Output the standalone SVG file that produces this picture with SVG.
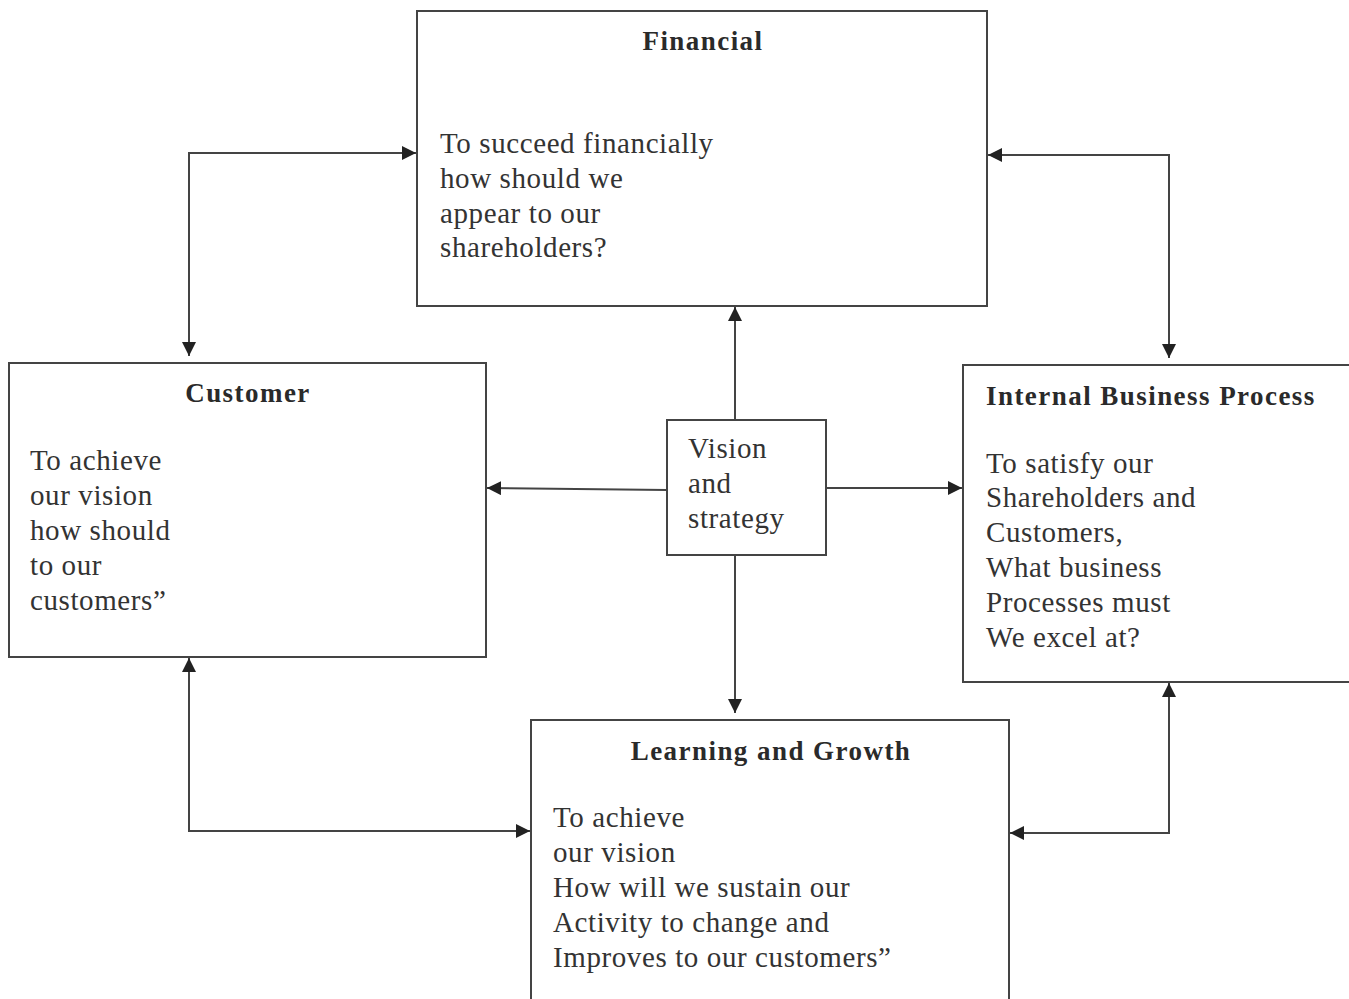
<svg xmlns="http://www.w3.org/2000/svg" width="1349" height="999" viewBox="0 0 1349 999">
<style>
.box{fill:#fff;stroke:#444;stroke-width:2}
.t{font-family:"Liberation Serif","Times New Roman",serif;font-weight:bold;font-size:27px;letter-spacing:1.45px;fill:#2a2a2a}
.b{font-family:"Liberation Serif","Times New Roman",serif;font-size:29px;letter-spacing:0.6px;fill:#333}
.c{fill:none;stroke:#444;stroke-width:2}
</style>
<defs>
<marker id="ah" viewBox="0 0 10 10" refX="10" refY="5" markerWidth="14" markerHeight="14" markerUnits="userSpaceOnUse" orient="auto-start-reverse">
<path d="M0,0 L10,5 L0,10 z" fill="#222"/>
</marker>
</defs>
<rect width="1349" height="999" fill="#fff"/>
<g id="connectors">
<polyline class="c" points="189,356 189,153 416,153" marker-start="url(#ah)" marker-end="url(#ah)"/>
<polyline class="c" points="988,155 1169,155 1169,358" marker-start="url(#ah)" marker-end="url(#ah)"/>
<line class="c" x1="735" y1="420" x2="735" y2="307" marker-end="url(#ah)"/>
<line class="c" x1="667" y1="490" x2="487" y2="488" marker-end="url(#ah)"/>
<line class="c" x1="826" y1="488" x2="962" y2="488" marker-end="url(#ah)"/>
<line class="c" x1="735" y1="555" x2="735" y2="713" marker-end="url(#ah)"/>
<polyline class="c" points="189,658 189,831 530,831" marker-start="url(#ah)" marker-end="url(#ah)"/>
<polyline class="c" points="1169,683 1169,833 1010,833" marker-start="url(#ah)" marker-end="url(#ah)"/>
</g>
<g id="financial">
<rect class="box" x="417" y="11" width="570" height="295"/>
<text class="t" x="703" y="50" text-anchor="middle">Financial</text>
<text class="b" x="440" y="153">To succeed financially</text>
<text class="b" x="440" y="188">how should we</text>
<text class="b" x="440" y="223">appear to our</text>
<text class="b" x="440" y="257">shareholders?</text>
</g>
<g id="customer">
<rect class="box" x="9" y="363" width="477" height="294"/>
<text class="t" x="248" y="402" text-anchor="middle">Customer</text>
<text class="b" x="30" y="470">To achieve</text>
<text class="b" x="30" y="505">our vision</text>
<text class="b" x="30" y="540">how should</text>
<text class="b" x="30" y="575">to our</text>
<text class="b" x="30" y="610">customers”</text>
</g>
<g id="vision">
<rect class="box" x="667" y="420" width="159" height="135"/>
<text class="b" x="688" y="458">Vision</text>
<text class="b" x="688" y="493">and</text>
<text class="b" x="688" y="528">strategy</text>
</g>
<g id="internal">
<rect class="box" x="963" y="365" width="390" height="317"/>
<text class="t" x="986" y="405">Internal Business Process</text>
<text class="b" x="986" y="473">To satisfy our</text>
<text class="b" x="986" y="507">Shareholders and</text>
<text class="b" x="986" y="542">Customers,</text>
<text class="b" x="986" y="577">What business</text>
<text class="b" x="986" y="612">Processes must</text>
<text class="b" x="986" y="647">We excel at?</text>
</g>
<g id="learning">
<rect class="box" x="531" y="720" width="478" height="290"/>
<text class="t" x="771" y="760" text-anchor="middle">Learning and Growth</text>
<text class="b" x="553" y="827">To achieve</text>
<text class="b" x="553" y="862">our vision</text>
<text class="b" x="553" y="897">How will we sustain our</text>
<text class="b" x="553" y="932">Activity to change and</text>
<text class="b" x="553" y="967">Improves to our customers”</text>
</g>
</svg>
